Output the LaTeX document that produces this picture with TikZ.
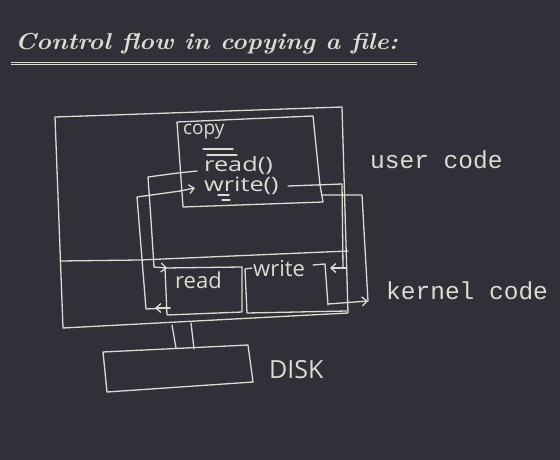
\documentclass[tikz,border=0pt]{standalone}
\usepackage{fontspec}
\usetikzlibrary{arrows.meta}
\newfontfamily\handfont{Open Sans}
\newfontfamily\monofont{Liberation Mono}
\definecolor{board}{RGB}{47,48,56}
\definecolor{chalk}{RGB}{220,220,210}
\tikzset{
  ink/.style={draw=chalk, line width=1.3pt, line cap=round, line join=round},
  barb/.style={ink, -{Straight Barb[length=5pt,width=9pt,line width=1.3pt]}},
  hand/.style={text=chalk, inner sep=0pt, anchor=base west, font=\handfont\fontsize{#1}{#1}\selectfont},
  mono/.style={text=chalk, inner sep=0pt, anchor=base west, font=\monofont\fontsize{24.5}{24.5}\selectfont},
}
\newcommand\callword[1]{\scalebox{1.15}[0.9]{#1}}
\begin{document}
\begin{tikzpicture}[x=1pt,y=-1pt]
  % board
  \fill[board] (0,0) rectangle (560,460);
  \useasboundingbox (0,0) rectangle (560,460);

  % heading with double rule
  \node[text=chalk, inner sep=0pt, anchor=base west,
        font=\bfseries\itshape\fontsize{23}{23}\selectfont] (title) at (15,50)
        {\scalebox{1.1}[1]{Control flow in copying a file:}};
  \draw[chalk, line width=0.8pt] (11,62.2) -- (417,62.2);
  \draw[chalk, line width=0.8pt] (11,64.0) -- (417,64.0);

  % outer frame: user space above, kernel space below
  \draw[ink] (55,117) -- (342,107) -- (348,313) -- (63,328) -- cycle;
  \draw[ink] (60,261) -- (140,260) -- (348,251);

  % copy program
  \draw[ink] (177,122) -- (313,116) -- (320,185) -- (323,202) -- (183,207) -- cycle;
  \node[hand=19] (copy) at (183,135) {copy};
  \draw[ink] (203,149) -- (233,149);
  \draw[ink] (207,155) -- (237,155);
  \node[hand=22] (rd) at (204,171) {\callword{read()}};
  \node[hand=22] (wr) at (204,191) {\callword{write()}};
  \draw[ink] (218,195) -- (229,195);
  \draw[ink] (222,200) -- (230,200);

  % kernel routines
  \draw[ink] (165,268) -- (242,267) -- (242,312) -- (167,315) -- cycle;
  \node[hand=22] (krd) at (175,288) {read};
  \draw[ink] (252,268) -- (245,269) -- (247,313) -- (347,311);
  \draw[ink] (313,265) -- (325,264) -- (328,305);
  \node[hand=22] (kwr) at (253,276) {write};

  % read(): down into the kernel and back
  \draw[ink] (197,171) -- (178,173) -- (148,177) -- (151,220) -- (154,267);
  \draw[barb] (154,267) -- (167,268);
  \draw[ink] (170,308) -- (146,309) -- (137,197) -- (180,191);
  \draw[barb] (170,308) -- (155,308);
  \draw[barb] (180,191) -- (195,188);

  % write(): down into the kernel and back
  \draw[ink] (288,186) -- (342,184) -- (343,268);
  \draw[barb] (346,268) -- (330,268);
  \draw[ink] (322,195) -- (362,195) -- (368,301);
  \draw[barb] (328,304) -- (368,301);

  % disk
  \draw[ink] (172,325) -- (176,348);
  \draw[ink] (191,323) -- (194,349);
  \draw[ink] (103,352) -- (248,345) -- (253,382) -- (107,392) -- cycle;
  \node[hand=25] (disk) at (269,378) {DISK};

  % space labels
  \node[mono] (user) at (370,168) {user code};
  \node[mono] (kern) at (386,299) {kernel code};
\end{tikzpicture}
\end{document}
